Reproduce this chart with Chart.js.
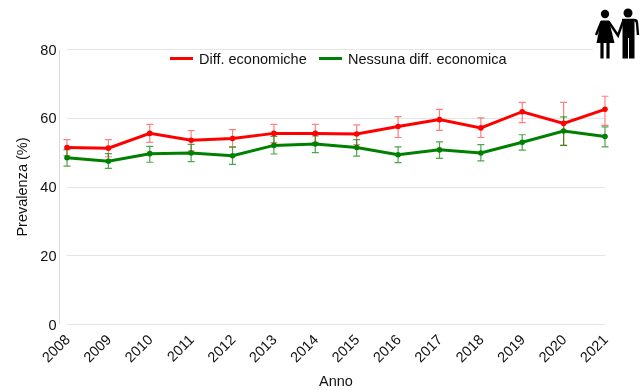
<!DOCTYPE html>
<html>
<head>
<meta charset="utf-8">
<style>
  body { margin: 0; background: #fff; }
  #wrap { position: relative; width: 644px; height: 390px; }
  #icon { position: absolute; left: 593px; top: 6px; }
</style>
<script src="https://cdn.jsdelivr.net/npm/chart.js@4/dist/chart.umd.min.js"></script>
</head>
<body>
<div id="wrap">
  <canvas id="chart" width="644" height="390"></canvas>
  <svg id="icon" width="47" height="56" viewBox="0 0 47 56">
    <rect width="47" height="56" fill="#fff"/>
    <circle cx="12" cy="8" r="4.2" fill="#000"/>
    <circle cx="35" cy="7" r="4.5" fill="#000"/>
    <path d="M8 14.5 L16 14.5 L21.5 37 L3.5 37 Z" fill="#000"/>
    <path d="M9 36 L9 52.5 M15 36 L15 52.5" stroke="#000" stroke-width="3.2" fill="none"/>
    <path d="M8.5 15.5 L3 29 M15.5 15.5 L25 29.5 L30 15.5" stroke="#000" stroke-width="2.4" fill="none"/>
    <path d="M29 14 L41 14 Q44 14 44 17 L45 29" stroke="#000" stroke-width="2.4" fill="none"/>
    <path d="M29.5 14 L41.5 14 L41.5 52.5 L36 52.5 L36 32 L35 32 L35 52.5 L29.5 52.5 Z" fill="#000"/>
  </svg>
</div>
<script>
const years = ['2008', '2009', '2010', '2011', '2012', '2013', '2014', '2015', '2016', '2017', '2018', '2019', '2020', '2021'];

const redValues = [51.5, 51.3, 55.6, 53.6, 54.1, 55.6, 55.6, 55.4, 57.6, 59.6, 57.2, 61.9, 58.5, 62.6];
const redHigh = [53.8, 53.8, 58.2, 56.4, 56.7, 58.2, 58.2, 58.1, 60.5, 62.6, 60.1, 64.6, 64.6, 66.4];
const redLow = [49.1, 48.8, 53.0, 50.5, 51.7, 52.9, 53.0, 52.3, 54.4, 56.5, 54.4, 58.7, 52.1, 57.9];

const greenValues = [48.5, 47.5, 49.7, 49.9, 49.1, 52.1, 52.5, 51.5, 49.4, 50.8, 49.9, 53.0, 56.3, 54.7];
const greenHigh = [50.9, 49.7, 51.8, 52.4, 51.6, 54.7, 54.9, 53.8, 51.7, 53.1, 52.3, 55.2, 60.4, 57.5];
const greenLow = [46.1, 45.4, 47.2, 47.4, 46.6, 49.6, 50.0, 49.0, 47.1, 48.3, 47.6, 50.7, 52.1, 51.7];

const yTicks = [0, 20, 40, 60, 80];

const font = { family: '"Liberation Sans", Arial, sans-serif', size: 14.5 };
const textColor = '#111';

// error bars + the y axis line, which sits a bit left of where the grid starts
const extras = {
  id: 'extras',
  beforeDatasetsDraw(chart) {
    const { ctx, chartArea, scales } = chart;
    ctx.save();
    ctx.strokeStyle = '#d9d9d9';
    ctx.lineWidth = 1;
    ctx.beginPath();
    ctx.moveTo(chartArea.left - 7.5, chartArea.top);
    ctx.lineTo(chartArea.left - 7.5, chartArea.bottom);
    ctx.stroke();

    chart.data.datasets.forEach((ds) => {
      ctx.strokeStyle = ds.errorColor;
      ctx.lineWidth = ds.errorWidth;
      years.forEach((year, i) => {
        const x = scales.x.getPixelForValue(i);
        const top = scales.y.getPixelForValue(ds.high[i]);
        const bottom = scales.y.getPixelForValue(ds.low[i]);
        ctx.beginPath();
        ctx.moveTo(x, top);
        ctx.lineTo(x, bottom);
        ctx.moveTo(x - 3.5, top);
        ctx.lineTo(x + 3.5, top);
        ctx.moveTo(x - 3.5, bottom);
        ctx.lineTo(x + 3.5, bottom);
        ctx.stroke();
      });
    });
    ctx.restore();
  },
  // legend sits inside the plot on one row, the built in chartArea one stacks
  afterDraw(chart) {
    const { ctx } = chart;
    const y = 58.5;
    const swatchX = [170, 319];
    ctx.save();
    ctx.font = font.size + 'px ' + font.family;
    ctx.textBaseline = 'middle';
    chart.data.datasets.forEach((ds, i) => {
      ctx.strokeStyle = ds.borderColor;
      ctx.lineWidth = 3;
      ctx.beginPath();
      ctx.moveTo(swatchX[i], y);
      ctx.lineTo(swatchX[i] + 23, y);
      ctx.stroke();
      ctx.fillStyle = textColor;
      ctx.fillText(ds.label, swatchX[i] + 29, y + 1);
    });
    ctx.restore();
  }
};

new Chart(document.getElementById('chart'), {
  type: 'line',
  data: {
    labels: years,
    datasets: [
      {
        label: 'Diff. economiche',
        data: redValues,
        high: redHigh,
        low: redLow,
        errorColor: 'rgba(255, 0, 0, 0.5)',
        errorWidth: 1.2,
        borderColor: '#ff0000',
        backgroundColor: '#ff0000',
        borderWidth: 3,
        pointRadius: 2.8,
        pointBorderWidth: 0,
        tension: 0
      },
      {
        label: 'Nessuna diff. economica',
        data: greenValues,
        high: greenHigh,
        low: greenLow,
        errorColor: 'rgba(0, 128, 0, 0.7)',
        errorWidth: 1.2,
        borderColor: '#008000',
        backgroundColor: '#008000',
        borderWidth: 3,
        pointRadius: 2.8,
        pointBorderWidth: 0,
        tension: 0
      }
    ]
  },
  options: {
    responsive: false,
    animation: false,
    layout: { padding: { top: 49.5, right: 39, left: 0, bottom: 0 } },
    plugins: {
      tooltip: { enabled: false },
      legend: { display: false }
    },
    scales: {
      x: {
        afterFit(scale) { scale.height = 65.5; },
        grid: { display: false },
        border: { display: false },
        ticks: { font: font, color: textColor, minRotation: 45, maxRotation: 45, autoSkip: false, padding: -1, labelOffset: 1 },
        title: { display: true, text: 'Anno', font: font, color: textColor, padding: { top: 0, bottom: -1 } }
      },
      y: {
        min: 0,
        max: 80,
        afterFit(scale) { scale.width = 67; },
        afterBuildTicks(scale) { scale.ticks = yTicks.map((v) => ({ value: v })); },
        grid: { color: '#e6e6e6', drawTicks: false },
        border: { display: false },
        ticks: { font: font, color: textColor, padding: 10.5, labelOffset: 1 },
        title: { display: true, text: 'Prevalenza (%)', font: font, color: textColor, padding: { top: 14, bottom: 0 } }
      }
    }
  },
  plugins: [extras]
});
</script>
</body>
</html>
